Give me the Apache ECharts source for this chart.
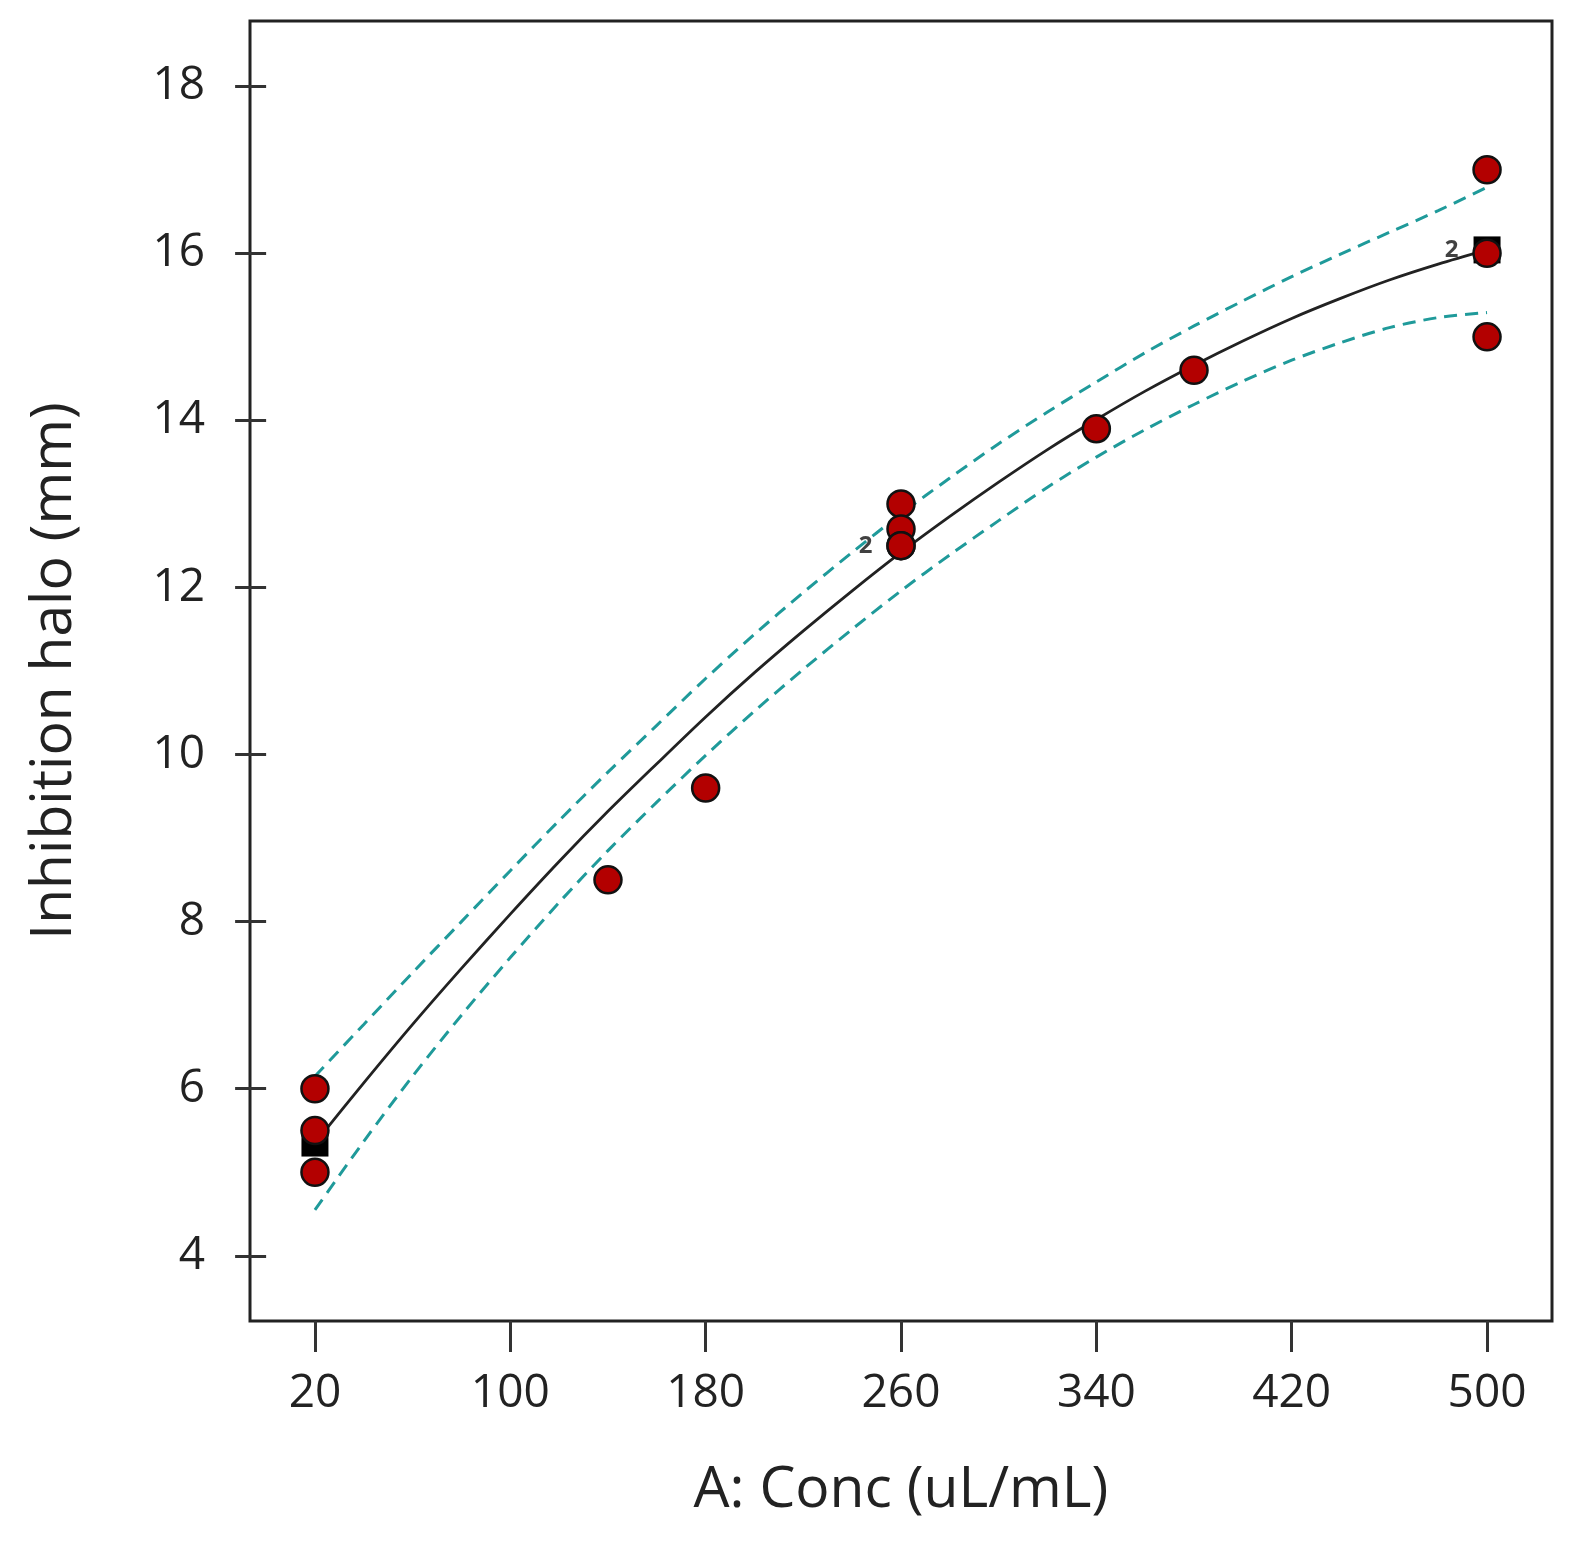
<!DOCTYPE html>
<html>
<head>
<meta charset="utf-8">
<script src="https://cdn.jsdelivr.net/npm/echarts@6/dist/echarts.min.js"></script>
<style>html,body{margin:0;padding:0;background:#fff}#c{width:1571px;height:1542px}</style>
</head>
<body>
<div id="c"></div>
<script>
// Observed data (A: Conc, Inhibition halo)
const obsX = [20, 20, 20, 140, 180, 260, 260, 260, 260, 340, 380, 500, 500, 500];
const obsY = [6.0, 5.5, 5.0, 8.5, 9.6, 13.0, 12.7, 12.5, 12.5, 13.9, 14.6, 17.0, 16.0, 15.0];
// Design-point averages (black squares)
const avgX = [20, 500];
const avgY = [5.35, 16.04];
// Replicate count labels
const repX = [260, 500];
const repY = [12.5, 16.04];
const repText = ['2', '2'];
// Fitted curve and confidence band
const curveX = [20, 40, 60, 80, 100, 120, 140, 160, 180, 200, 220, 240, 260, 280, 300, 320, 340, 360, 380, 400, 420, 440, 460, 480, 500];
const fitY   = [5.35, 6.07, 6.77, 7.44, 8.09, 8.72, 9.32, 9.89, 10.45, 10.98, 11.48, 11.96, 12.42, 12.85, 13.26, 13.65, 14.01, 14.35, 14.66, 14.95, 15.22, 15.46, 15.68, 15.87, 16.04];
const upperY = [6.15, 6.77, 7.39, 8.00, 8.61, 9.21, 9.79, 10.35, 10.91, 11.44, 11.94, 12.42, 12.88, 13.31, 13.72, 14.10, 14.46, 14.81, 15.13, 15.43, 15.72, 15.99, 16.25, 16.51, 16.79];
const lowerY = [4.55, 5.37, 6.15, 6.88, 7.57, 8.23, 8.85, 9.43, 9.99, 10.52, 11.02, 11.50, 11.96, 12.39, 12.80, 13.20, 13.56, 13.89, 14.19, 14.47, 14.72, 14.93, 15.11, 15.23, 15.29];
const xTicks = [20, 100, 180, 260, 340, 420, 500];
const yTicks = [4, 6, 8, 10, 12, 14, 16, 18];

const pairs = (xs, ys) => xs.map((x, i) => [x, ys[i]]);
const FONT = 'Open Sans';

const chart = echarts.init(document.getElementById('c'), null, {renderer: 'canvas'});
chart.setOption({
  animation: false,
  backgroundColor: '#fff',
  grid: {left: 250, top: 21, right: 19, bottom: 221, show: true, borderColor: '#222', borderWidth: 3, backgroundColor: 'transparent'},
  xAxis: {
    type: 'value', min: -6.6, max: 526.6, interval: 80,
    name: 'A: Conc (uL/mL)', nameLocation: 'middle', nameGap: 141,
    nameTextStyle: {fontFamily: FONT, fontSize: 57, color: '#222'},
    axisLine: {show: false},
    axisTick: {show: true, length: 31, lineStyle: {color: '#333', width: 3}, customValues: xTicks},
    axisLabel: {fontFamily: FONT, fontSize: 46, color: '#222', margin: 50, customValues: xTicks},
    splitLine: {show: false}
  },
  yAxis: {
    type: 'value', min: 3.22, max: 18.78, interval: 2,
    name: 'Inhibition halo (mm)', nameLocation: 'middle', nameGap: 167,
    nameTextStyle: {fontFamily: FONT, fontSize: 57, color: '#222'},
    axisLine: {show: false},
    axisTick: {show: true, length: 31, lineStyle: {color: '#333', width: 3}, customValues: yTicks},
    axisLabel: {fontFamily: FONT, fontSize: 46, color: '#222', margin: 45, customValues: yTicks},
    splitLine: {show: false}
  },
  series: [
    {type: 'line', data: pairs(curveX, upperY), smooth: 0.3, symbol: 'none',
     lineStyle: {color: '#1f9a9a', width: 3, type: [13, 8]}, z: 2},
    {type: 'line', data: pairs(curveX, lowerY), smooth: 0.3, symbol: 'none',
     lineStyle: {color: '#1f9a9a', width: 3, type: [13, 8]}, z: 2},
    {type: 'line', data: pairs(curveX, fitY), smooth: 0.3, symbol: 'none',
     lineStyle: {color: '#222', width: 2.8}, z: 3},
    {type: 'scatter', data: pairs(avgX, avgY), symbol: 'rect', symbolSize: 27,
     itemStyle: {color: '#000', opacity: 1}, z: 4},
    {type: 'scatter', data: pairs(obsX, obsY), symbol: 'circle', symbolSize: 27,
     itemStyle: {color: '#b30000', borderColor: '#111', borderWidth: 2.5, opacity: 1}, z: 5},
    {type: 'scatter', data: repX.map((x, i) => ({value: [x, repY[i]], label: {formatter: repText[i]}})),
     symbol: 'circle', symbolSize: 27, itemStyle: {color: 'rgba(0,0,0,0)', borderWidth: 0},
     label: {show: true, position: 'left', distance: 15, fontFamily: FONT, fontSize: 24, fontWeight: 'bold', color: '#111'}, z: 6}
  ]
});
</script>
</body>
</html>
